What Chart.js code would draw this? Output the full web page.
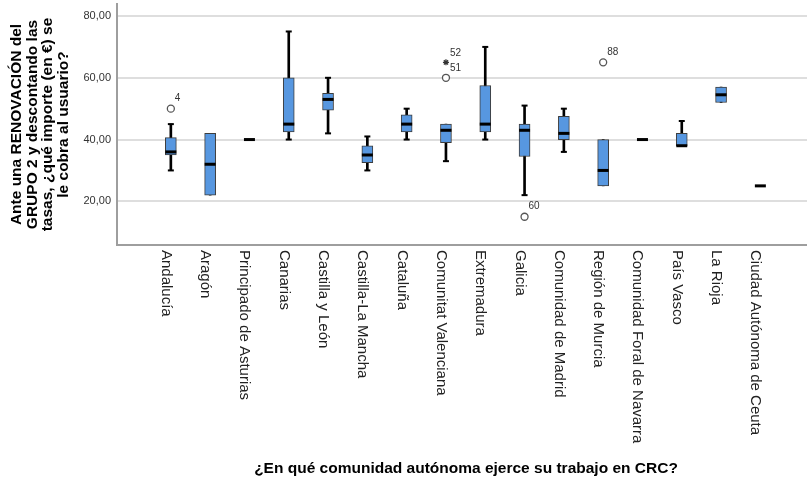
<!DOCTYPE html>
<html>
<head>
<meta charset="utf-8">
<script src="https://cdn.jsdelivr.net/npm/chart.js@4.4.1/dist/chart.umd.min.js"></script>
<style>
  html, body { margin: 0; padding: 0; background: #fff; overflow: hidden; }
  #wrap { position: relative; width: 822px; height: 480px; }
</style>
</head>
<body>
<div id="wrap"><canvas id="boxChart"></canvas></div>
<script>
// Comunidades (eje X)
const categories = [
    'Andalucía', 'Aragón', 'Principado de Asturias', 'Canarias', 'Castilla y León',
    'Castilla-La Mancha', 'Cataluña', 'Comunitat Valenciana', 'Extremadura', 'Galicia',
    'Comunidad de Madrid', 'Región de Murcia', 'Comunidad Foral de Navarra', 'País Vasco',
    'La Rioja', 'Ciudad Autónoma de Ceuta'
];

// Estadísticos de cada caja
const whiskerLow  = [30, 22, 40, 40,   42,   30,   40,   33, 40,   22,   36, 25, 40, 38, 52,   25];
const q1          = [35, 22, 40, 42.5, 49.5, 32.5, 42.5, 39, 42.5, 34.5, 40, 25, 40, 38, 52,   25];
const medians     = [36, 32, 40, 45,   53,   35,   45,   43, 45,   43,   42, 30, 40, 38, 54.5, 25];
const q3          = [40.6, 42, 40, 60, 55,   38,   48,   45, 57.5, 45,   47.5, 40, 40, 42, 57, 25];
const whiskerHigh = [45, 42, 40, 75,   60,   41,   50,   45, 70,   51,   50, 40, 40, 46, 57,   25];

// Atípicos (círculo) y extremos (estrella)
const outlierCat  = [0, 7, 9, 11];
const outlierVal  = [50, 60, 15, 65];
const outlierCase = ['4', '51', '60', '88'];
const extremeCat  = [7];
const extremeVal  = [65];
const extremeCase = ['52'];

const yTicks = [20, 40, 60, 80];

const fontFamily = '"Liberation Sans", Arial, Helvetica, sans-serif';

const idx = categories.map((_, i) => i);

const boxData = idx.filter(i => q1[i] < q3[i]).map(i => ({ x: i, y: [q1[i], q3[i]] }));
const whiskerData = idx.filter(i => whiskerLow[i] < whiskerHigh[i]).map(i => ({ x: i, y: [whiskerLow[i], whiskerHigh[i]] }));
const medianData = idx.map(i => ({ x: i, y: medians[i] }));
const capData = [];
idx.forEach(i => {
    if (whiskerLow[i] < q1[i]) capData.push({ x: i, y: whiskerLow[i] });
    if (whiskerHigh[i] > q3[i]) capData.push({ x: i, y: whiskerHigh[i] });
});
const outlierData = outlierCat.map((c, k) => ({ x: c, y: outlierVal[k] }));
const extremeData = extremeCat.map((c, k) => ({ x: c, y: extremeVal[k] }));

// Etiquetas de categorías giradas y números de caso
const labelPlugin = {
    id: 'spssLabels',
    afterDraw(chart) {
        const { ctx, chartArea, scales: { x, y } } = chart;
        ctx.save();
        ctx.fillStyle = '#222';
        ctx.font = '15px ' + fontFamily;
        ctx.textAlign = 'left';
        ctx.textBaseline = 'alphabetic';
        categories.forEach((name, i) => {
            ctx.save();
            ctx.translate(x.getPixelForValue(i) - 9, chartArea.bottom + 5);
            ctx.rotate(Math.PI / 2);
            ctx.fillText(name, 0, 0);
            ctx.restore();
        });
        ctx.font = '10px ' + fontFamily;
        ctx.fillStyle = '#333';
        ctx.textBaseline = 'middle';
        outlierCat.forEach((c, k) => {
            ctx.fillText(outlierCase[k], x.getPixelForValue(c) + 4, y.getPixelForValue(outlierVal[k]) - 10);
        });
        extremeCat.forEach((c, k) => {
            ctx.fillText(extremeCase[k], x.getPixelForValue(c) + 4, y.getPixelForValue(extremeVal[k]) - 9);
        });
        ctx.restore();
    }
};

const ctx = document.getElementById('boxChart').getContext('2d');

new Chart(ctx, {
    type: 'bar',
    data: {
        datasets: [
            {
                type: 'line',
                data: medianData,
                showLine: false,
                pointStyle: 'line',
                pointRadius: 5.5,
                pointBorderWidth: 3,
                borderColor: '#000',
                order: 0
            },
            {
                type: 'line',
                data: capData,
                showLine: false,
                pointStyle: 'line',
                pointRadius: 3,
                pointBorderWidth: 2,
                borderColor: '#000',
                order: 0
            },
            {
                type: 'line',
                data: outlierData,
                showLine: false,
                pointStyle: 'circle',
                pointRadius: 3.5,
                pointBorderWidth: 1.3,
                borderColor: '#555',
                backgroundColor: '#fff',
                order: 0
            },
            {
                type: 'line',
                data: extremeData,
                showLine: false,
                pointStyle: 'star',
                pointRadius: 3,
                pointBorderWidth: 1.2,
                borderColor: '#333',
                order: 0
            },
            {
                data: boxData,
                backgroundColor: '#5797e0',
                borderColor: '#3d3d3d',
                borderWidth: 1,
                borderSkipped: false,
                barThickness: 11,
                grouped: false,
                order: 1
            },
            {
                data: whiskerData,
                backgroundColor: '#000',
                borderWidth: 0,
                barThickness: 2,
                grouped: false,
                order: 2
            }
        ]
    },
    options: {
        responsive: true,
        maintainAspectRatio: false,
        animation: false,
        layout: {
            autoPadding: false,
            padding: { left: 0, top: 4, right: 7, bottom: 0 }
        },
        plugins: {
            legend: { display: false },
            tooltip: { enabled: false }
        },
        scales: {
            x: {
                type: 'linear',
                offset: false,
                min: -1.37,
                max: 16.39,
                ticks: { display: false },
                grid: { display: false },
                border: { display: true, color: '#9e9e9e', width: 2 },
                title: {
                    display: true,
                    text: '¿En qué comunidad autónoma ejerce su trabajo en CRC?',
                    color: '#000',
                    font: { family: fontFamily, size: 15.5, weight: 'bold' },
                    padding: { top: 0, bottom: 2 }
                },
                afterFit: scale => {
                    scale.height = 235;
                    scale.paddingLeft = 0;
                    scale.paddingRight = 0;
                }
            },
            y: {
                min: 5.85,
                max: 83.9,
                afterBuildTicks: axis => { axis.ticks = yTicks.map(v => ({ value: v })); },
                ticks: {
                    color: '#333',
                    padding: 6,
                    font: { family: fontFamily, size: 11 },
                    callback: v => v.toFixed(2).replace('.', ',')
                },
                grid: { color: '#dedede', lineWidth: 2, drawTicks: false },
                border: { display: true, color: '#9e9e9e', width: 2 },
                title: {
                    display: true,
                    text: ['Ante una RENOVACIÓN del', 'GRUPO 2 y descontando las', 'tasas, ¿qué importe (en €) se', 'le cobra al usuario?'],
                    color: '#000',
                    font: { family: fontFamily, size: 15.5, weight: 'bold', lineHeight: 1.02 },
                    padding: { top: 8.6, bottom: 0 }
                },
                afterFit: scale => {
                    scale.width = 117;
                    scale.paddingTop = 0;
                    scale.paddingBottom = 0;
                }
            }
        }
    },
    plugins: [labelPlugin]
});
</script>
</body>
</html>
